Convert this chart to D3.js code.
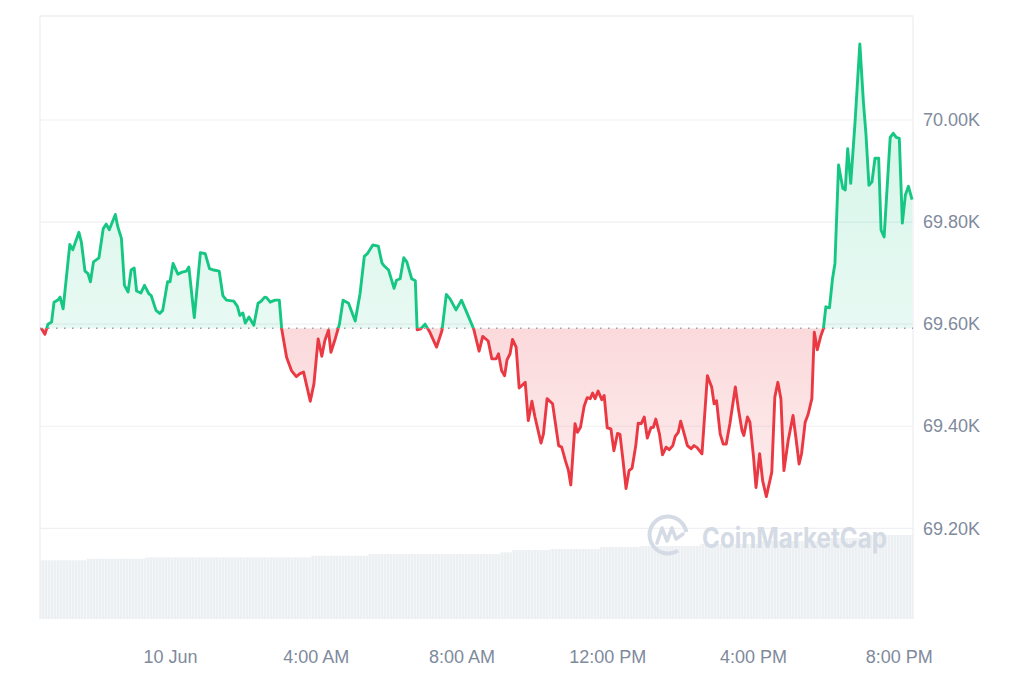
<!DOCTYPE html>
<html><head><meta charset="utf-8">
<script src="https://cdn.jsdelivr.net/npm/d3@7"></script>
<style>body{margin:0;background:#fff;} svg{display:block;font-family:"Liberation Sans",Arial,sans-serif;}</style>
</head><body><svg id="c" width="1024" height="683"></svg>
<script>
// minutes relative to 10 Jun 2024 00:00
const minutes = [-212,-206,-201,-195,-191,-184,-181,-176,-165,-160,
-150,-146,-140,-135,-131,-126,-117,-110,-105,-100,
-90,-86,-80,-75,-69,-64,-59,-55,-48,-42,
-35,-31,-23,-17,-12,-4,0,5,13,20,
27,31,40,50,58,65,72,81,87,93,
105,111,115,120,124,130,138,145,150,156,
159,165,173,180,184,192,200,208,214,220,
225,231,237,244,250,255,261,265,272,279,
285,294,305,313,320,325,334,343,349,352,
360,369,373,379,385,390,398,404,407,413,
420,428,439,448,455,461,471,480,489,500,
509,515,524,530,537,541,546,551,555,560,
564,570,575,585,590,596,601,611,615,621,
630,640,645,651,656,660,667,671,676,682,
687,692,696,700,705,711,715,720,726,731,
737,741,746,751,756,761,767,771,776,781,
786,792,796,800,806,811,817,822,828,832,
837,841,847,852,858,863,868,876,885,892,
896,900,906,911,916,922,931,936,942,945,
951,955,961,965,971,976,982,991,996,1001,
1006,1011,1018,1026,1031,1036,1040,1046,1051,1057,
1061,1066,1072,1076,1080,1086,1091,1095,1101,1108,
1112,1116,1121,1128,1136,1142,1146,1151,1156,1161,
1167,1171,1176,1186,1191,1196,1201,1206,1211,1216,1222];
const prices = [69592,69580,69600,69604,69643,69648,69653,69630,69756,69746,
69780,69761,69704,69699,69683,69722,69730,69787,69796,69785,
69815,69791,69768,69676,69663,69706,69710,69665,69661,69676,
69660,69656,69627,69621,69627,69683,69683,69719,69698,69702,
69704,69712,69613,69740,69738,69709,69706,69704,69656,69647,
69645,69635,69617,69622,69602,69614,69598,69641,69645,69653,
69652,69643,69647,69647,69590,69535,69509,69497,69503,69506,
69480,69449,69483,69571,69537,69568,69588,69545,69571,69600,
69647,69641,69606,69660,69733,69738,69755,69753,69720,69715,
69706,69670,69686,69689,69730,69722,69689,69685,69589,69591,
69600,69584,69555,69588,69658,69650,69628,69647,69622,69591,
69547,69576,69567,69532,69532,69542,69509,69499,69530,69542,
69570,69555,69475,69486,69411,69449,69418,69367,69385,69454,
69444,69362,69359,69333,69314,69285,69405,69388,69398,69439,
69456,69454,69465,69454,69469,69452,69460,69397,69395,69352,
69386,69384,69333,69278,69313,69318,69362,69406,69405,69418,
69377,69397,69398,69414,69385,69344,69359,69354,69362,69380,
69388,69410,69384,69362,69356,69362,69358,69346,69499,69477,
69444,69450,69385,69365,69365,69405,69477,69434,69391,69382,
69418,69408,69339,69280,69346,69293,69262,69310,69457,69486,
69454,69313,69372,69421,69375,69326,69346,69408,69424,69454,
69584,69550,69578,69591,69634,69632,69689,69719,69912,69866,
69863,69944,69876,69994,70149,70033,69974,69872,69879,69925,
69925,69784,69771,69966,69974,69966,69964,69798,69853,69870,69844];
const openPrice = 69592;

// volume (billions) steps
const volMinutes = [-214,-138,-41,232,326,544,563,626,708,774,873,972,1071,1153];
const volValues = [11.18,11.49,11.75,12.06,12.38,12.70,13.14,13.33,13.71,13.90,14.29,14.86,15.43,16.0];
const volEndMinute = 1224;

const yTicks = [69200,69400,69600,69800,70000];
const xTickMinutes = [0,240,480,720,960,1200];
const xTickLabels = ["10 Jun","4:00 AM","8:00 AM","12:00 PM","4:00 PM","8:00 PM"];

const day0 = new Date(2024,5,10,0,0);
const toDate = m => new Date(day0.getTime()+m*60000);
const data = minutes.map((m,i)=>({t:toDate(m), p:prices[i]}));
const vol = volMinutes.map((m,i)=>({t0:toDate(m), t1:toDate(i<volMinutes.length-1?volMinutes[i+1]:volEndMinute), v:volValues[i]}));

const L=40,R=913,T=16,B=619;
const x = d3.scaleTime().domain([toDate(0), toDate(1200)]).range([170, 898.7]);
const y = d3.scaleLinear().domain([69200,70000]).range([528.3,120]);
const yv = d3.scaleLinear().domain([0,16]).range([619,535]);

const svg = d3.select("#c");
const defs = svg.append("defs");
const y0 = y(openPrice);

defs.append("clipPath").attr("id","above").append("rect").attr("x",0).attr("y",0).attr("width",1024).attr("height",y0);
defs.append("clipPath").attr("id","below").append("rect").attr("x",0).attr("y",y0).attr("width",1024).attr("height",683-y0);

const gg = defs.append("linearGradient").attr("id","gg").attr("gradientUnits","userSpaceOnUse")
  .attr("x1",0).attr("x2",0).attr("y1",y(d3.max(prices))).attr("y2",y0);
gg.append("stop").attr("offset","0").attr("stop-color","#16c784").attr("stop-opacity",0.2);
gg.append("stop").attr("offset","1").attr("stop-color","#16c784").attr("stop-opacity",0.1);
const rg = defs.append("linearGradient").attr("id","rg").attr("gradientUnits","userSpaceOnUse")
  .attr("x1",0).attr("x2",0).attr("y1",y0).attr("y2",y(d3.min(prices)));
rg.append("stop").attr("offset","0").attr("stop-color","#ea3943").attr("stop-opacity",0.19);
rg.append("stop").attr("offset","1").attr("stop-color","#ea3943").attr("stop-opacity",0.09);

const pat = defs.append("pattern").attr("id","vp").attr("patternUnits","userSpaceOnUse").attr("width",3).attr("height",10);
pat.append("rect").attr("width",3).attr("height",10).attr("fill","#edf0f3");
pat.append("rect").attr("x",2).attr("width",1).attr("height",10).attr("fill","#f3f5f7");

// grid
svg.append("g").selectAll("line").data(yTicks).join("line")
  .attr("x1",L).attr("x2",R).attr("y1",d=>y(d)).attr("y2",d=>y(d))
  .attr("stroke","#eef0f3").attr("stroke-width",1.2);
svg.append("path").attr("d",`M${L},${B}V${T}H${R}V${B}`).attr("fill","none").attr("stroke","#eceef1").attr("stroke-width",1.3);

// volume
svg.append("g").selectAll("rect").data(vol).join("rect")
  .attr("x",d=>x(d.t0)).attr("width",d=>x(d.t1)-x(d.t0))
  .attr("y",d=>yv(d.v)).attr("height",d=>yv(0)-yv(d.v))
  .attr("fill","url(#vp)");

// watermark
const wm = svg.append("g").attr("fill","none").attr("stroke","#d4dbe4");
wm.append("path").attr("transform","translate(668,535)")
  .attr("d", d3.arc()({innerRadius:16.5,outerRadius:20.5,startAngle:Math.PI*0.82,endAngle:Math.PI*2.45}))
  .attr("fill","#d4dbe4").attr("stroke","none");
wm.append("path").attr("d","M657,543 L662,528 L667,541 L672,528 L676,539 L683,534")
  .attr("stroke-width",3.5).attr("stroke-linejoin","round").attr("stroke-linecap","round");
svg.append("text").attr("x",702).attr("y",548).attr("font-size",28).attr("font-weight",700)
  .attr("fill","#d4dbe4").attr("textLength",185).attr("lengthAdjust","spacingAndGlyphs")
  .style("font-family","Inter, 'Liberation Sans', sans-serif").text("CoinMarketCap");

// areas
const area = d3.area().x(d=>x(d.t)).y0(y0).y1(d=>y(d.p));
svg.append("path").datum(data).attr("d",area).attr("fill","url(#gg)").attr("clip-path","url(#above)");
svg.append("path").datum(data).attr("d",area).attr("fill","url(#rg)").attr("clip-path","url(#below)");

// baseline
svg.append("line").attr("x1",L).attr("x2",R).attr("y1",y0).attr("y2",y0)
  .attr("stroke","#9aa0a9").attr("stroke-width",1.5).attr("stroke-dasharray","1.5 6.5");

// lines
const line = d3.line().x(d=>x(d.t)).y(d=>y(d.p));
svg.append("path").datum(data).attr("d",line).attr("fill","none").attr("stroke","#16c784")
  .attr("stroke-width",2.9).attr("stroke-linejoin","round").attr("clip-path","url(#above)");
svg.append("path").datum(data).attr("d",line).attr("fill","none").attr("stroke","#ea3943")
  .attr("stroke-width",2.9).attr("stroke-linejoin","round").attr("clip-path","url(#below)");

// axes
const ya = svg.append("g").attr("transform",`translate(${R},0)`)
  .call(d3.axisRight(y).tickValues(yTicks).tickFormat(d=>(d/1000).toFixed(2)+"K").tickSize(0).tickPadding(10));
const xa = svg.append("g").attr("transform","translate(0,640)")
  .call(d3.axisBottom(x).tickValues(xTickMinutes.map(toDate)).tickFormat((d,i)=>xTickLabels[i]).tickSize(0).tickPadding(10));
[ya,xa].forEach(a=>{a.select(".domain").remove();
  a.selectAll("text").attr("fill","#808a9d").attr("font-size",18).style("font-family","'Liberation Sans', Arial, sans-serif");});
</script></body></html>
